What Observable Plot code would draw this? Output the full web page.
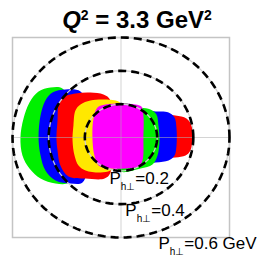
<!DOCTYPE html>
<html>
<head>
<meta charset="utf-8">
<script src="https://cdn.jsdelivr.net/npm/d3@7"></script>
<script src="https://cdn.jsdelivr.net/npm/@observablehq/plot@0.6"></script>
<style>
  html, body { margin: 0; padding: 0; background: #fff; }
  #chart svg { display: block; }
</style>
</head>
<body>
<div id="chart"></div>
<script>
// ---- data (GeV) ----
const q2 = 3.3;
const circleRadii = [0.2, 0.4, 0.6];
const labelText = ["0.2", "0.4", "0.6 GeV"];
const labelX = [-0.064, 0.024, 0.207];
const labelY = [-0.276, -0.468, -0.666];

// coverage regions [px, py] in GeV, in drawing order (bottom -> top)
const redRight = [[-0.003,0.144],[0.218,0.138],[0.301,0.132],[0.362,0.114],[0.390,0.072],[0.395,0],[0.384,-0.078],[0.357,-0.108],[0.301,-0.120],[0.218,-0.126],[-0.003,-0.138]];
const blueRight = [[-0.003,0.168],[0.191,0.156],[0.263,0.150],[0.296,0.120],[0.307,0.054],[0.307,-0.048],[0.296,-0.108],[0.263,-0.138],[0.191,-0.150],[-0.003,-0.168]];
const greenRight = [[-0.014,0.198],[0.108,0.180],[0.163,0.168],[0.196,0.138],[0.207,0.072],[0.213,-0.018],[0.202,-0.108],[0.174,-0.162],[0.108,-0.186],[-0.014,-0.198]];
const greenLeft = [[-0.390,0.300],[-0.456,0.276],[-0.506,0.210],[-0.539,0.114],[-0.556,0],[-0.545,-0.108],[-0.506,-0.186],[-0.445,-0.246],[-0.362,-0.276],[-0.290,-0.270],[-0.268,-0.138],[-0.268,0.162],[-0.324,0.294]];
const blueLeft = [[-0.307,0.288],[-0.379,0.270],[-0.418,0.222],[-0.445,0.132],[-0.456,0],[-0.445,-0.108],[-0.418,-0.198],[-0.362,-0.258],[-0.279,-0.276],[-0.213,-0.270],[-0.180,-0.138],[-0.180,0.162],[-0.224,0.276]];
const redLeft = [[-0.324,0.240],[-0.252,0.264],[-0.169,0.270],[-0.097,0.258],[-0.058,0.222],[-0.058,-0.210],[-0.091,-0.246],[-0.196,-0.246],[-0.290,-0.234],[-0.335,-0.168],[-0.351,-0.078],[-0.357,0],[-0.351,0.102],[-0.346,0.192]];
const yellowCore = [[-0.224,0.198],[-0.169,0.222],[-0.086,0.228],[-0.014,0.216],[0.008,0.186],[0.008,-0.138],[-0.058,-0.198],[-0.113,-0.210],[-0.196,-0.198],[-0.235,-0.168],[-0.257,-0.108],[-0.268,-0.018],[-0.263,0.072],[-0.252,0.162]];
const magentaCore = [[-0.130,0.180],[-0.086,0.198],[-0.003,0.204],[0.080,0.198],[0.113,0.186],[0.124,0.132],[0.124,0],[0.119,-0.138],[0.097,-0.174],[0.025,-0.186],[-0.058,-0.186],[-0.124,-0.168],[-0.147,-0.108],[-0.158,0],[-0.152,0.114]];

const regions = [
  {pts: redRight, color: "#ff0000"},
  {pts: blueRight, color: "#0000ff"},
  {pts: greenRight, color: "#00f000"},
  {pts: greenLeft, color: "#00f000"},
  {pts: blueLeft, color: "#0000ff"},
  {pts: redLeft, color: "#ff0000"},
  {pts: yellowCore, color: "#ffe800"},
  {pts: magentaCore, color: "#ff00ff"}
];

// circle outlines of constant P_h⊥
const angles = d3.range(0, 360, 3);
const circlePts = circleRadii.flatMap(r => angles.map(a => ({
  r, x: r * Math.cos(a * Math.PI / 180), y: r * Math.sin(a * Math.PI / 180)
})));

const SVGNS = "http://www.w3.org/2000/svg";
function addSpan(parent, str, attrs) {
  const s = document.createElementNS(SVGNS, "tspan");
  for (const k in attrs) s.setAttribute(k, attrs[k]);
  s.textContent = str;
  parent.appendChild(s);
}

const labelData = labelText.map((t, i) => ({t, x: labelX[i], y: labelY[i]}));

const plot = Plot.plot({
  width: 261,
  height: 256,
  marginLeft: 12,
  marginRight: 32,
  marginTop: 37,
  marginBottom: 19,
  x: {domain: [-0.6, 0.6], axis: null},
  y: {domain: [-0.6, 0.6], axis: null},
  style: {fontFamily: "'Liberation Sans', Arial, sans-serif", background: "#fff", color: "#000"},
  marks: [
    Plot.frame({stroke: "#c4c4c4", strokeWidth: 1.5}),
    ...regions.map(g => Plot.line(g.pts, {x: d => d[0], y: d => d[1], fill: g.color, stroke: "none", curve: "catmull-rom-closed"})),
    Plot.ruleX([0], {stroke: "#b0b0b0", strokeOpacity: 0.55, strokeWidth: 1}),
    Plot.ruleY([0], {stroke: "#b0b0b0", strokeOpacity: 0.55, strokeWidth: 1}),
    Plot.line(circlePts, {x: "x", y: "y", z: "r", stroke: "#cfcfcf", strokeWidth: 1.2, curve: "linear-closed"}),
    Plot.line(circlePts, {x: "x", y: "y", z: "r", stroke: "#000", strokeWidth: 2.6, strokeDasharray: "8,5", strokeLinecap: "butt", curve: "linear-closed"}),
    Plot.text(labelData, {
      x: "x", y: "y", text: d => "Ph⊥=" + d.t, textAnchor: "start", lineAnchor: "bottom",
      fontSize: 17, fill: "#000",
      render(index, scales, values, dims, context, next) {
        const g = next(index, scales, values, dims, context);
        g.querySelectorAll("text").forEach((t, k) => {
          const d = labelData[index[k]];
          t.textContent = "";
          addSpan(t, "P", {});
          addSpan(t, "h⊥", {"font-size": 10, dy: 6});
          addSpan(t, "=" + d.t, {dy: -6});
        });
        return g;
      }
    }),
    Plot.text([`Q² = ${q2} GeV²`], {
      frameAnchor: "top", dx: 16, dy: -10, textAnchor: "middle", lineAnchor: "bottom",
      fontSize: 24, fontWeight: "bold", fill: "#000",
      render(index, scales, values, dims, context, next) {
        const g = next(index, scales, values, dims, context);
        g.querySelectorAll("text").forEach(t => {
          t.textContent = "";
          addSpan(t, "Q", {"font-style": "italic"});
          addSpan(t, "2", {"font-size": 14, dy: -8});
          addSpan(t, ` = ${q2} GeV`, {dy: 8});
          addSpan(t, "2", {"font-size": 14, dy: -8});
        });
        return g;
      }
    })
  ]
});
document.getElementById("chart").appendChild(plot);
</script>
</body>
</html>
